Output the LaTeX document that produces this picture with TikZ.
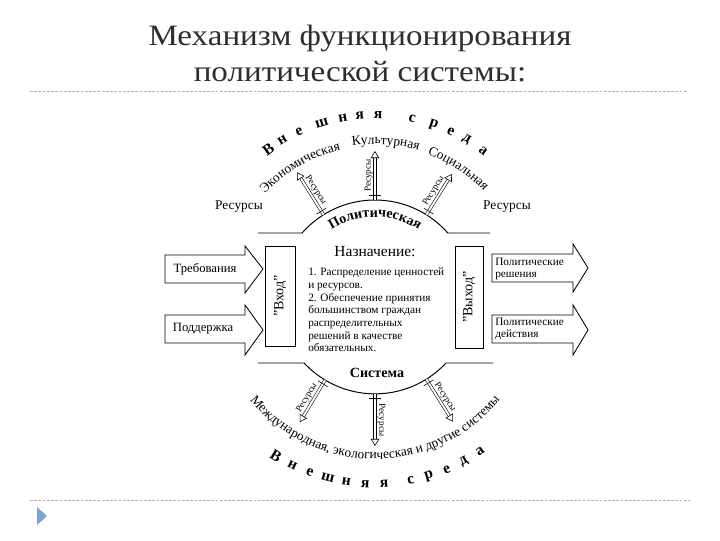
\documentclass[tikz,border=0pt]{standalone}
\usepackage{fontspec}
\setmainfont{Liberation Serif}
\newfontfamily\titlefont[FakeStretch=1.12]{Liberation Serif}
\usetikzlibrary{arrows.meta,calc,decorations.text}

\definecolor{titlegray}{HTML}{2E2E2E}
\definecolor{rulegray}{HTML}{B4B4B4}
\definecolor{bulletblue}{HTML}{7BA3D4}
\newcommand{\ringfont}{\fontsize{9.5}{11}\selectfont}
\newcommand{\polfont}{\fontsize{10}{12}\selectfont\bfseries}

\begin{document}
\begin{tikzpicture}[x=0.025cm,y=0.025cm,
  every node/.style={inner sep=0pt},
  heading/.style={font=\titlefont\fontsize{21}{24}\selectfont, text=titlegray},
  ruleline/.style={draw=rulegray, dash pattern=on 2pt off 1pt, line width=0.6pt},
  outline/.style={line width=0.7pt},
  bigarrow/.style={draw, line width=0.6pt},
  gate/.style={draw, line width=0.6pt, rotate=90, font=\fontsize{10}{12}\selectfont},
  arrowtext/.style={font=\fontsize{9}{10}\selectfont},
  smalltext/.style={font=\fontsize{8}{9}\selectfont, align=left},
  res/.style={double, double distance=1.4pt, line width=0.4pt, -{Triangle[open, length=5pt, width=6pt]}},
  reslabel/.style={font=\fontsize{6.5}{7}\selectfont, inner sep=1.5pt},
  tick/.style={line width=0.4pt},
  letter/.style={font=\fontsize{11}{12}\selectfont\bfseries}]
\useasboundingbox (0,0) rectangle (720,540);

% Title
\node[heading] (title1) at (360,502) {Механизм функционирования};
\node[heading] (title2) at (360,468) {политической системы:};
\draw[ruleline] (30,449) -- (688,449);
\draw[ruleline] (30,40) -- (690,40);
\fill[bulletblue] (37,33) -- (47,24) -- (37,15) -- cycle;

% System outline
\coordinate (ctr) at (375,243);
\draw[outline] (258,307) -- (302.1,307) arc[start angle=138.7, end angle=41.3, radius=97] -- (490,307);
\draw[outline] (258,177) -- (304.1,177) arc[start angle=223, end angle=317, radius=97] -- (493,177);
\node[font=\polfont] (sys) at (377,167) {Система};
\node[font=\fontsize{11}{12}\selectfont] (aim) at (375,288) {Назначение:};
\node[smalltext, anchor=north west] (goals) at (308,272) {1. Распределение ценностей\\и ресурсов.\\2. Обеспечение принятия\\большинством граждан\\распределительных\\решений в качестве\\обязательных.};

% Input
\node[gate, minimum width=2.5cm, minimum height=0.75cm] (vhod) at (280,244) {"Вход"};
\draw[bigarrow] (165,257) -- (245,257) -- (245,247) -- (263,271) -- (245,294) -- (245,285) -- (165,285) -- cycle;
\node[arrowtext] (demand) at (205,271) {Требования};
\draw[bigarrow] (165,197) -- (245,197) -- (245,185) -- (263,210) -- (245,235) -- (245,225) -- (165,225) -- cycle;
\node[arrowtext] (support) at (203,211) {Поддержка};

% Output
\node[gate, minimum width=2.55cm, minimum height=0.7cm] (vyhod) at (469,243) {"Выход"};
\draw[bigarrow] (492,258) -- (573,258) -- (573,248) -- (588,272) -- (573,296) -- (573,286) -- (492,286) -- cycle;
\node[smalltext, anchor=west] (decis) at (495,271) {Политические\\решения};
\draw[bigarrow] (492,197) -- (573,197) -- (573,185) -- (588,210) -- (573,235) -- (573,225) -- (492,225) -- cycle;
\node[smalltext, anchor=west] (acts) at (495,211) {Политические\\действия};

\node[font=\fontsize{9.5}{11}\selectfont] (resL) at (239,333) {Ресурсы};
\node[font=\fontsize{9.5}{11}\selectfont] (resR) at (507,333) {Ресурсы};

\begin{scope}[shift={(375,243)}]
% Resource arrows, top
\coordinate (baseTL) at (122:97);
\coordinate (tipTL) at (122:147);
\coordinate (baseTM) at (90:97);
\coordinate (tipTM) at (90:146);
\coordinate (baseTR) at (58:97);
\coordinate (tipTR) at (58:145);
% Resource arrows, bottom
\coordinate (baseBL) at (239:97);
\coordinate (tipBL) at (239:146);
\coordinate (baseBM) at (270:97);
\coordinate (tipBM) at (270:149);
\coordinate (baseBR) at (302:97);
\coordinate (tipBR) at (302:147);

% Ring labels
\path[decorate, decoration={text along path, text align=center, text={|\polfont|Политическая}}] (130:80) arc[start angle=130, end angle=50, radius=80];
\path[decorate, decoration={text along path, text align=center, text={|\ringfont|Экономическая}}] (145:151) arc[start angle=145, end angle=95, radius=151];
\path[decorate, decoration={text along path, text align=center, text={|\ringfont|Культурная}}] (106:153) arc[start angle=106, end angle=66, radius=153];
\path[decorate, decoration={text along path, text align=center, text={|\ringfont|Социальная}}] (77:152) arc[start angle=77, end angle=37, radius=152];
\path[decorate, decoration={text along path, text align=center, text={|\ringfont|Международная, экологическая и другие системы}}] (200:162) arc[start angle=200, end angle=340, radius=162];

% Outer ring, top
\node[letter, rotate=35.9] (t1) at (125.9:182) {В};
\node[letter, rotate=30.6] (t2) at (120.6:182) {н};
\node[letter, rotate=24.6] (t3) at (114.6:182) {е};
\node[letter, rotate=17] (t4) at (107:182) {ш};
\node[letter, rotate=10.2] (t5) at (100.2:182) {н};
\node[letter, rotate=4.8] (t6) at (94.8:182) {я};
\node[letter, rotate=-1] (t7) at (89:182) {я};
\node[letter, rotate=-11.8] (t8) at (78.2:182) {с};
\node[letter, rotate=-18.8] (t9) at (71.2:182) {р};
\node[letter, rotate=-24.6] (t10) at (65.4:182) {е};
\node[letter, rotate=-30.1] (t11) at (59.9:182) {д};
\node[letter, rotate=-36.4] (t12) at (53.6:182) {а};
% Outer ring, bottom
\node[letter, rotate=-32] (b1) at (238:187) {В};
\node[letter, rotate=-26.2] (b2) at (243.8:187) {н};
\node[letter, rotate=-20.4] (b3) at (249.6:187) {е};
\node[letter, rotate=-14.6] (b4) at (255.4:187) {ш};
\node[letter, rotate=-8.8] (b5) at (261.2:187) {н};
\node[letter, rotate=-3] (b6) at (267:187) {я};
\node[letter, rotate=2.8] (b7) at (272.8:187) {я};
\node[letter, rotate=11] (b8) at (281:187) {с};
\node[letter, rotate=16.8] (b9) at (286.8:187) {р};
\node[letter, rotate=22.6] (b10) at (292.6:187) {е};
\node[letter, rotate=28.4] (b11) at (298.4:187) {д};
\node[letter, rotate=34.2] (b12) at (304.2:187) {а};
\end{scope}

\draw[res] (baseTL) -- (tipTL) node[reslabel, midway, sloped, above] (rTL) {Ресурсы};
\draw[res] (baseTM) -- (tipTM) node[reslabel, midway, sloped, above] (rTM) {Ресурсы};
\draw[res] (baseTR) -- (tipTR) node[reslabel, midway, sloped, above] (rTR) {Ресурсы};
\draw[res] (baseBL) -- (tipBL) node[reslabel, midway, sloped, above] (rBL) {Ресурсы};
\draw[res] (baseBM) -- (tipBM) node[reslabel, midway, sloped, above] (rBM) {Ресурсы};
\draw[res] (baseBR) -- (tipBR) node[reslabel, midway, sloped, above] (rBR) {Ресурсы};
% small marks where the arrows leave the outline
\draw[tick] ($($(baseTL)!3pt!(tipTL)$)!4pt!90:(tipTL)$) -- ($($(baseTL)!3pt!(tipTL)$)!4pt!-90:(tipTL)$);
\draw[tick] ($($(baseTM)!3pt!(tipTM)$)!4pt!90:(tipTM)$) -- ($($(baseTM)!3pt!(tipTM)$)!4pt!-90:(tipTM)$);
\draw[tick] ($($(baseTR)!3pt!(tipTR)$)!4pt!90:(tipTR)$) -- ($($(baseTR)!3pt!(tipTR)$)!4pt!-90:(tipTR)$);
\draw[tick] ($($(baseBL)!3pt!(tipBL)$)!4pt!90:(tipBL)$) -- ($($(baseBL)!3pt!(tipBL)$)!4pt!-90:(tipBL)$);
\draw[tick] ($($(baseBM)!3pt!(tipBM)$)!4pt!90:(tipBM)$) -- ($($(baseBM)!3pt!(tipBM)$)!4pt!-90:(tipBM)$);
\draw[tick] ($($(baseBR)!3pt!(tipBR)$)!4pt!90:(tipBR)$) -- ($($(baseBR)!3pt!(tipBR)$)!4pt!-90:(tipBR)$);
\end{tikzpicture}
\end{document}
